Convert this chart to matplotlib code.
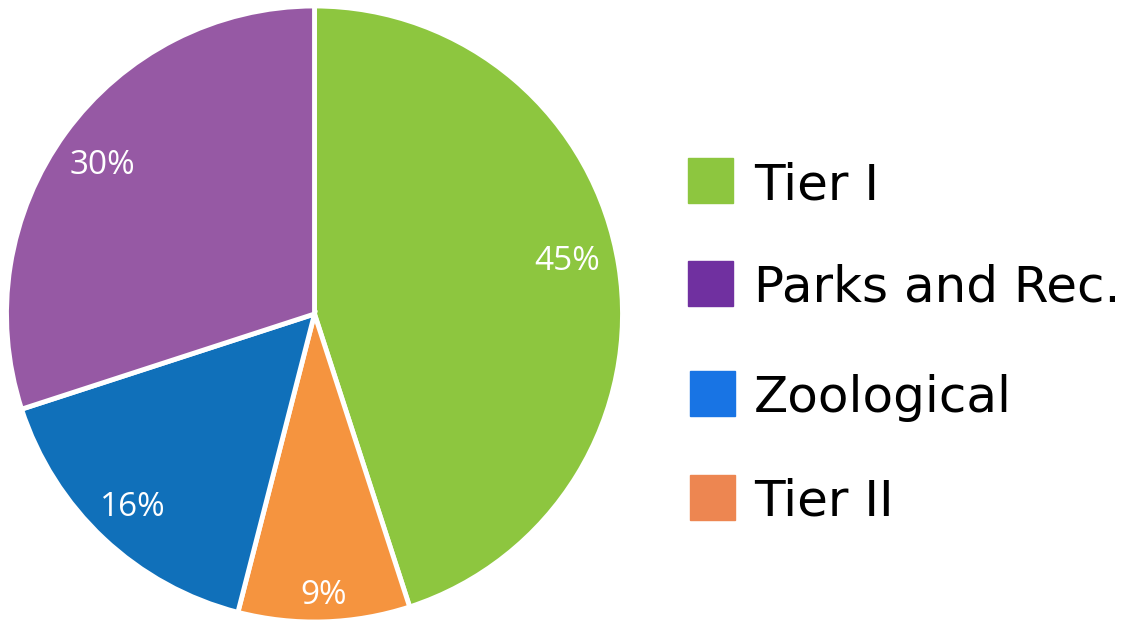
import numpy as np
import matplotlib
matplotlib.use("Agg")
import matplotlib.pyplot as plt
from matplotlib.patches import Rectangle

# Data
categories = ["Tier I", "Tier II", "Zoological", "Parks and Rec."]
values = [45, 9, 16, 30]
pie_colors = ["#8DC63F", "#F5943F", "#1070BA", "#9659A4"]
legend_order = ["Tier I", "Parks and Rec.", "Zoological", "Tier II"]
legend_colors = {"Tier I": "#8DC63F", "Parks and Rec.": "#7030A0",
                 "Zoological": "#1874E4", "Tier II": "#ED8651"}
label_radius = [0.83, 0.90, 0.86, 0.85]
label_dy = [0.04, -0.013, 0.0, -0.016]

W, H = 1141, 621
fig = plt.figure(figsize=(W / 100, H / 100), dpi=100)

# pie axes: center (314.5, 314), radius 308 px
cx, cy, r = 314.5, 314, 308
ax = fig.add_axes([(cx - r) / W, (H - cy - r) / H, 2 * r / W, 2 * r / H])
wedges, _ = ax.pie(values, colors=pie_colors, startangle=90, counterclock=False,
                   radius=1.0, wedgeprops=dict(edgecolor="white", linewidth=3.5))
for w, v, rr, dy in zip(wedges, values, label_radius, label_dy):
    ang = np.deg2rad((w.theta1 + w.theta2) / 2)
    ax.text(rr * np.cos(ang), rr * np.sin(ang) + dy, f"{v}%", ha="center", va="center",
            color="white", fontsize=24, family="Open Sans")
ax.set_xlim(-1, 1)
ax.set_ylim(-1, 1)
ax.set_aspect("equal")
ax.axis("off")

# legend drawn manually in pixel coordinates
rows_y = [180, 283, 393, 497]
box_x = [688, 688, 690, 690]
for name, y, bx in zip(legend_order, rows_y, box_x):
    fig.patches.append(Rectangle((bx / W, (H - y - 22.5) / H), 45 / W, 45 / H,
                                 transform=fig.transFigure, color=legend_colors[name]))
    fig.text(754 / W, (H - y) / H, name, ha="left", va="center_baseline",
             fontsize=36, family="DejaVu Sans", color="black")

fig.savefig("out.png", dpi=100)
